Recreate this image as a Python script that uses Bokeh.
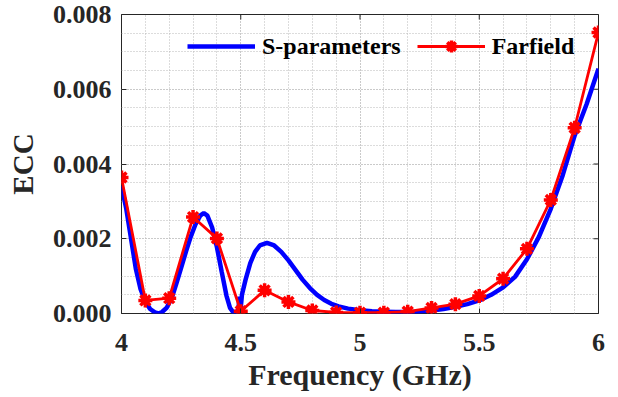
import math
from bokeh.plotting import figure
from bokeh.models import (FixedTicker, Legend, LegendItem, Range1d)
from bokeh.embed import file_html
from bokeh.resources import INLINE

# ---- data ----
s_freq = [4.00, 4.02, 4.04, 4.06, 4.08, 4.10, 4.12, 4.14, 4.155, 4.17, 4.19, 4.21,
          4.23, 4.25, 4.27, 4.29, 4.31, 4.33, 4.345, 4.36, 4.38, 4.40, 4.42, 4.44,
          4.455, 4.47, 4.485, 4.49, 4.495, 4.50, 4.505, 4.52, 4.54, 4.56, 4.58,
          4.61, 4.64, 4.67, 4.70, 4.73, 4.76, 4.79, 4.82, 4.85, 4.88, 4.91, 4.95,
          5.00, 5.05, 5.10, 5.15, 5.20, 5.25, 5.30, 5.35, 5.40, 5.45, 5.50, 5.55,
          5.60, 5.65, 5.70, 5.75, 5.80, 5.85, 5.90, 5.95, 6.00]
s_ecc = [0.00342, 0.00280, 0.00200, 0.00120, 0.00065, 0.00032, 0.00012, 0.00003,
         0.00000, 0.00004, 0.00016, 0.00040, 0.00080, 0.00122, 0.00165, 0.00205,
         0.00238, 0.00262, 0.00269, 0.00262, 0.00230, 0.00178, 0.00112, 0.00048,
         0.00015, 0.00002, 0.00006, 0.00010, 0.00045, 0.00015, 0.00050, 0.00090,
         0.00135, 0.00165, 0.00182, 0.00189, 0.00182, 0.00165, 0.00142, 0.00116,
         0.00090, 0.00068, 0.00050, 0.00036, 0.00026, 0.00019, 0.00013, 0.00009,
         0.00006, 0.00005, 0.00004, 0.00004, 0.00005, 0.00008, 0.00012, 0.00018,
         0.00025, 0.00035, 0.00050, 0.00070, 0.00098, 0.00145, 0.00205, 0.00280,
         0.00370, 0.00476, 0.00560, 0.00655]

f_freq = [4.0, 4.1, 4.2, 4.3, 4.4, 4.5, 4.6, 4.7, 4.8, 4.9, 5.0, 5.1, 5.2, 5.3,
          5.4, 5.5, 5.6, 5.7, 5.8, 5.9, 6.0]
f_ecc = [0.00364, 0.00035, 0.00041, 0.00258, 0.00201, 0.00006, 0.00062, 0.00031,
         0.00008, 0.00003, 0.00002, 0.00002, 0.00005, 0.00015, 0.00025, 0.00047,
         0.00093, 0.00173, 0.00304, 0.00497, 0.00752]

x_ticks = [4.0, 4.5, 5.0, 5.5, 6.0]
x_tick_labels = ["4", "4.5", "5", "5.5", "6"]
x_minor = [4.0 + 0.1 * i for i in range(21)]
y_ticks = [0.0, 0.002, 0.004, 0.006, 0.008]
y_tick_labels = ["0.000", "0.002", "0.004", "0.006", "0.008"]
y_minor = [0.0005 * i for i in range(17)]

X_MIN, X_MAX = 4.0, 6.0
Y_MIN, Y_MAX = 0.0, 0.008

FONT = "Liberation Serif"
TXT = "#262626"

p = figure(width=618, height=397, output_backend="svg", toolbar_location=None,
           x_range=Range1d(X_MIN, X_MAX), y_range=Range1d(Y_MIN, Y_MAX),
           min_border_left=121, min_border_right=20, min_border_top=14,
           min_border_bottom=84, x_axis_label="Frequency (GHz)", y_axis_label="ECC")
p.background_fill_color = "white"
p.border_fill_color = "white"
p.outline_line_color = TXT
p.outline_line_width = 1

xt = FixedTicker(ticks=x_ticks, minor_ticks=x_minor)
yt = FixedTicker(ticks=y_ticks, minor_ticks=y_minor)
p.xaxis.ticker = xt
p.yaxis.ticker = yt
p.xaxis.major_label_overrides = dict(zip(x_ticks, x_tick_labels))
p.yaxis.major_label_overrides = dict(zip(y_ticks, y_tick_labels))

for ax in (p.xaxis[0], p.yaxis[0]):
    ax.axis_line_color = None
    ax.major_tick_in = 5
    ax.major_tick_out = 0
    ax.minor_tick_in = 0
    ax.minor_tick_out = 0
    ax.major_tick_line_color = TXT
    ax.major_label_text_font = FONT
    ax.major_label_text_font_style = "bold"
    ax.major_label_text_font_size = "26px"
    ax.major_label_text_color = TXT
    ax.axis_label_text_font = FONT
    ax.axis_label_text_font_style = "bold"
    ax.axis_label_text_color = TXT
p.xaxis.major_label_standoff = 20
p.yaxis.major_label_standoff = 10
p.xaxis.axis_label_text_font_size = "30px"
p.yaxis.axis_label_text_font_size = "29px"
p.xaxis.axis_label_standoff = 4
p.yaxis.axis_label_standoff = 11

for g in (p.xgrid[0], p.ygrid[0]):
    g.grid_line_color = "#b8b8b8"
    g.grid_line_dash = "1 2"
    g.grid_line_width = 1
    g.minor_grid_line_color = "#b8b8b8"
    g.minor_grid_line_dash = "1 2"
    g.minor_grid_line_width = 1

# tick marks on the top and right edges of the box (half of each dash is clipped)
p.scatter(x_ticks, [Y_MAX] * len(x_ticks), marker="dash", angle=math.pi / 2,
          size=10, line_color=TXT, line_width=1)
p.scatter([X_MAX] * len(y_ticks), y_ticks, marker="dash", size=10,
          line_color=TXT, line_width=1)

blue = p.line(s_freq, s_ecc, line_color="#0000ff", line_width=4.5)
red = p.line(f_freq, f_ecc, line_color="#ff0000", line_width=2.8)
redm = p.scatter(f_freq, f_ecc, marker="asterisk", size=14, line_color="#ff0000",
                 line_width=3.5)

legend = Legend(items=[LegendItem(label="S-parameters", renderers=[blue]),
                       LegendItem(label="Farfield", renderers=[red, redm])],
                orientation="horizontal", location=(66, 252),
                background_fill_alpha=0, border_line_color=None,
                padding=0, margin=0, spacing=16, label_standoff=7,
                glyph_width=68, glyph_height=30,
                label_text_font=FONT, label_text_font_style="bold",
                label_text_font_size="24px", label_text_color="black")
p.add_layout(legend, "center")

open("out.html", "w").write(file_html(p, INLINE))
